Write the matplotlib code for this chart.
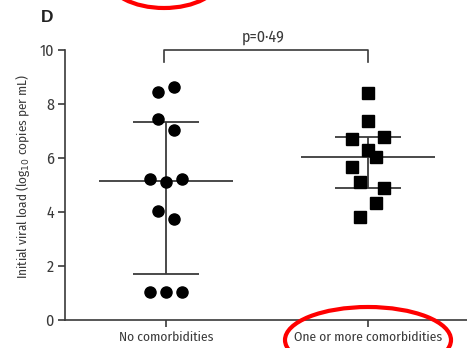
import numpy as np
import matplotlib.pyplot as plt
from matplotlib.patches import Ellipse

# data
groups = ["No comorbidities", "One or more comorbidities"]
no_comorb = [8.44, 8.63, 7.44, 7.04, 5.21, 5.10, 5.21, 4.05, 3.75, 1.03, 1.03, 1.03]
no_comorb_jitter = [-0.04, 0.04, -0.04, 0.04, -0.08, 0.0, 0.08, -0.04, 0.04, -0.08, 0.0, 0.08]
with_comorb = [8.40, 7.37, 6.70, 6.77, 6.30, 6.05, 5.65, 5.10, 4.88, 4.32, 3.80]
with_comorb_jitter = [0.0, 0.0, -0.08, 0.08, 0.0, 0.04, -0.08, -0.04, 0.08, 0.04, -0.04]

# median and whiskers, as drawn
centre = [5.14, 6.05]
upper = [7.33, 6.77]
lower = [1.70, 4.88]
p_text = "p=0\u00b749"

ink = "#3a3a3a"
plt.rcParams['font.family'] = ['Fira Sans Condensed', 'PT Sans Narrow', 'Roboto Condensed',
                               'Liberation Sans', 'DejaVu Sans']

fig = plt.figure(figsize=(4.67, 3.48), dpi=100)
W, H = 467, 348
ax = fig.add_axes([65 / W, 28 / H, 404 / W, 270 / H])

xs = [1, 2]
ax.plot(np.array(no_comorb_jitter) + xs[0], no_comorb, 'o', color='black', ms=8, zorder=3)
ax.plot(np.array(with_comorb_jitter) + xs[1], with_comorb, 's', color='black', ms=8.5, zorder=3)

for i, x in enumerate(xs):
    ax.hlines(centre[i], x - 0.33, x + 0.33, color=ink, lw=1.3, zorder=2)
    ax.hlines([upper[i], lower[i]], x - 0.165, x + 0.165, color=ink, lw=1.3, zorder=2)
    ax.vlines(x, lower[i], upper[i], color=ink, lw=1.3, zorder=2)

# significance bracket
ax.plot([xs[0] - 0.01, xs[0] - 0.01, xs[1], xs[1]], [9.57, 10, 10, 9.57],
        color=ink, lw=1.2, clip_on=False)
ax.text(1.48, 10.2, p_text, ha='center', va='bottom', fontsize=11.5, color=ink)

ax.set_xlim(0.5, 2.5)
ax.set_ylim(0, 10)
ax.set_yticks(range(0, 11, 2))
ax.set_xticks(xs)
ax.set_xticklabels(groups)
ax.spines['top'].set_visible(False)
ax.spines['right'].set_visible(False)
for s in ['left', 'bottom']:
    ax.spines[s].set_color(ink)
    ax.spines[s].set_linewidth(1.2)
ax.tick_params(axis='y', length=5, width=1.2, color=ink, labelsize=11.5, labelcolor=ink, pad=3)
ax.tick_params(axis='x', length=5, width=1.2, color=ink, labelsize=9.7, labelcolor=ink, pad=3)

fig.text(23 / W, 1 - 176 / H, "Initial viral load (log$_{10}$ copies per mL)",
         rotation=90, ha='center', va='center', fontsize=9.5, color=ink)
fig.text(41 / W, 1 - 18 / H, "D", ha='left', va='center', fontsize=12.5,
         fontweight='bold', color='#222222', family=['Liberation Sans', 'DejaVu Sans'])

# red highlight rings
for cx, cy, w, h in [(164, -22, 112, 60), (368, 340, 166, 66)]:
    fig.add_artist(Ellipse((cx / W, 1 - cy / H), w / W, h / H, transform=fig.transFigure,
                           fill=False, edgecolor='#ff0000', lw=3))

fig.savefig("out.png", dpi=100)
